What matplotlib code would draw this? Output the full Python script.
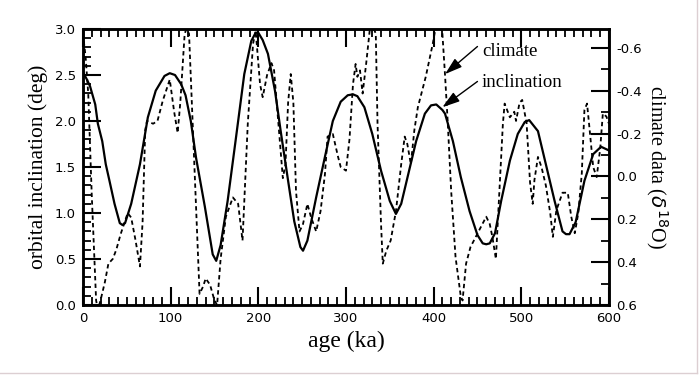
import matplotlib
matplotlib.use("Agg")
import matplotlib.pyplot as plt
from matplotlib.ticker import MultipleLocator, FixedLocator
from matplotlib.lines import Line2D

# ---- data ----
incl_age = [0, 4, 8, 14, 17, 22, 26, 30, 36, 42, 45, 48, 55, 65, 74, 83, 93, 99, 105, 112,
            117, 123, 129, 139, 148, 152, 157, 165, 174, 184, 192, 197, 200, 205, 211, 219,
            226, 234, 241, 248, 251, 256, 266, 276, 285, 294, 302, 308, 313, 321, 330, 340,
            350, 357, 363, 371, 380, 390, 397, 403, 410, 413, 422, 431, 441, 450, 456, 460,
            464, 470, 477, 487, 496, 504, 509, 519, 528, 538, 547, 551, 555, 562, 572, 582,
            591, 600]
incl_val = [2.53, 2.46, 2.38, 2.18, 1.97, 1.78, 1.53, 1.36, 1.1, 0.89, 0.87, 0.89, 1.1,
            1.53, 2.04, 2.33, 2.49, 2.52, 2.5, 2.4, 2.28, 2.0, 1.6, 1.07, 0.55, 0.48, 0.65,
            1.13, 1.78, 2.51, 2.87, 2.96, 2.96, 2.88, 2.73, 2.33, 1.86, 1.35, 0.91, 0.63,
            0.59, 0.7, 1.17, 1.61, 2.0, 2.21, 2.28, 2.29, 2.27, 2.15, 1.86, 1.46, 1.13,
            0.99, 1.1, 1.42, 1.78, 2.08, 2.17, 2.18, 2.12, 2.08, 1.78, 1.39, 1.02, 0.76,
            0.67, 0.66, 0.67, 0.78, 1.13, 1.57, 1.86, 1.99, 2.01, 1.89, 1.53, 1.13, 0.8,
            0.77, 0.77, 0.9, 1.35, 1.64, 1.72, 1.68]

clim_age = [0, 3, 6, 10, 15, 17, 20, 25, 29, 34, 38, 43, 51, 55, 60, 65, 68, 71, 73, 80,
            85, 91, 99, 104, 108, 111, 116, 118, 121, 125, 130, 133, 137, 140, 145, 150,
            153, 157, 163, 171, 177, 182, 188, 194, 197, 202, 205, 210, 215, 218, 221, 224,
            228, 231, 234, 237, 240, 243, 247, 251, 256, 260, 266, 271, 276, 279, 285, 291,
            294, 300, 304, 308, 311, 313, 316, 319, 323, 327, 330, 334, 336, 340, 342, 346,
            351, 357, 363, 367, 370, 374, 378, 382, 391, 399, 402, 406, 410, 413, 416, 420,
            425, 431, 433, 437, 442, 448, 454, 460, 464, 467, 471, 475, 479, 481, 487, 492,
            494, 498, 501, 506, 510, 513, 515, 519, 523, 528, 533, 536, 540, 547, 553, 557,
            561, 565, 569, 572, 575, 578, 582, 586, 590, 593, 597, 600]
clim_val = [-0.666, -0.559, -0.387, 0.085, 0.579, 0.621, 0.579, 0.493, 0.407, 0.385,
            0.342, 0.269, 0.171, 0.192, 0.299, 0.420, 0.214, -0.216, -0.259, -0.246,
            -0.259, -0.353, -0.452, -0.302, -0.203, -0.344, -0.666, -0.688, -0.666,
            -0.259, 0.257, 0.548, 0.514, 0.476, 0.506, 0.579, 0.600, 0.385, 0.188, 0.098,
            0.128, 0.299, -0.246, -0.619, -0.679, -0.430, -0.370, -0.473, -0.529, -0.495,
            -0.344, -0.198, 0.008, -0.057, -0.344, -0.478, -0.344, 0.068, 0.257, 0.222,
            0.128, 0.188, 0.257, 0.162, -0.010, -0.186, -0.198, -0.091, -0.044, -0.027,
            -0.173, -0.430, -0.525, -0.465, -0.495, -0.387, -0.525, -0.679, -0.709,
            -0.666, -0.246, 0.222, 0.407, 0.347, 0.299, 0.162, -0.057, -0.186, -0.151,
            -0.057, -0.216, -0.323, -0.465, -0.619, -0.688, -0.709, -0.666, -0.473,
            -0.259, 0.068, 0.377, 0.561, 0.579, 0.407, 0.330, 0.282, 0.235, 0.188, 0.222,
            0.282, 0.385, 0.068, -0.246, -0.340, -0.276, -0.302, -0.259, -0.344, -0.357,
            -0.250, 0.029, 0.128, 0.016, -0.091, -0.044, 0.042, 0.171, 0.282, 0.158,
            0.076, 0.076, 0.188, 0.265, 0.171, -0.014, -0.310, -0.340, -0.216, -0.044,
            0.003, -0.130, -0.293, -0.280, -0.246]

x_ticks = [0, 100, 200, 300, 400, 500, 600]
left_ticks = [0.0, 0.5, 1.0, 1.5, 2.0, 2.5, 3.0]
right_ticks = [-0.6, -0.4, -0.2, 0.0, 0.2, 0.4, 0.6]

# ---- figure ----
fig = plt.figure(figsize=(6.99, 3.77), dpi=100)
ax = fig.add_axes([0.1187, 0.191, 0.7525, 0.732])
ax2 = ax.twinx()

serif = ["Liberation Serif", "DejaVu Serif"]
tickfont = {"family": "DejaVu Sans", "size": 9.5}

ax.plot(incl_age, incl_val, color="black", lw=1.6, solid_joinstyle="round", zorder=3)
ax2.plot(clim_age, clim_val, color="black", lw=1.3, dashes=(2.4, 1.8))

ax.set_xlim(0, 600)
ax.set_ylim(0, 3.0)
ax2.set_ylim(0.6, -0.688)

ax.set_xticks(x_ticks)
ax.set_xticklabels([str(v) for v in x_ticks], fontdict=tickfont)
ax.set_yticks(left_ticks)
ax.set_yticklabels([f"{v:.1f}" for v in left_ticks], fontdict=tickfont)
ax.xaxis.set_minor_locator(MultipleLocator(10))
ax.yaxis.set_minor_locator(MultipleLocator(0.1))
ax2.yaxis.set_major_locator(FixedLocator(right_ticks))
ax2.set_yticklabels([f"{v:.1f}" for v in right_ticks], fontdict=tickfont)
ax2.yaxis.set_minor_locator(MultipleLocator(0.1))

ax.tick_params(axis="both", which="major", direction="in", length=13, width=1.5,
               top=True, right=False, pad=5)
ax.tick_params(axis="both", which="minor", direction="in", length=6, width=1.3,
               top=True, right=False)
ax2.tick_params(axis="y", which="major", direction="in", length=13, width=1.5, pad=5)
ax2.tick_params(axis="y", which="minor", direction="in", length=6, width=1.3)

for a in (ax, ax2):
    for s in a.spines.values():
        s.set_linewidth(1.8)

ax.set_xlabel("age (ka)", family=serif, fontsize=17, labelpad=4)
ax.set_ylabel("orbital inclination (deg)", family=serif, fontsize=15.5, labelpad=5)
ax2.set_ylabel(r"climate data ($\delta^{18}$O)", family=serif, fontsize=14.5,
               rotation=270, labelpad=20)

# annotations
ax.annotate("", xy=(413, 2.51), xytext=(450, 2.81),
            arrowprops=dict(arrowstyle="-|>,head_length=0.7,head_width=0.22",
                            color="black", lw=1.0, mutation_scale=15, shrinkA=0, shrinkB=0))
ax.annotate("", xy=(410, 2.15), xytext=(450, 2.43),
            arrowprops=dict(arrowstyle="-|>,head_length=0.7,head_width=0.22",
                            color="black", lw=1.0, mutation_scale=15, shrinkA=0, shrinkB=0))
ax.text(455, 2.76, "climate", family=serif, fontsize=13.5, ha="left", va="center")
ax.text(455, 2.42, "inclination", family=serif, fontsize=13.5, ha="left", va="center")

# faint figure border (right and bottom)
fig.add_artist(Line2D([0.997, 0.997], [0.01, 1.0], transform=fig.transFigure,
                      color="#dccfd2", lw=1.0))
fig.add_artist(Line2D([0.0, 0.997], [0.01, 0.01], transform=fig.transFigure,
                      color="#dccfd2", lw=1.0))

fig.savefig("out.png", dpi=100)
